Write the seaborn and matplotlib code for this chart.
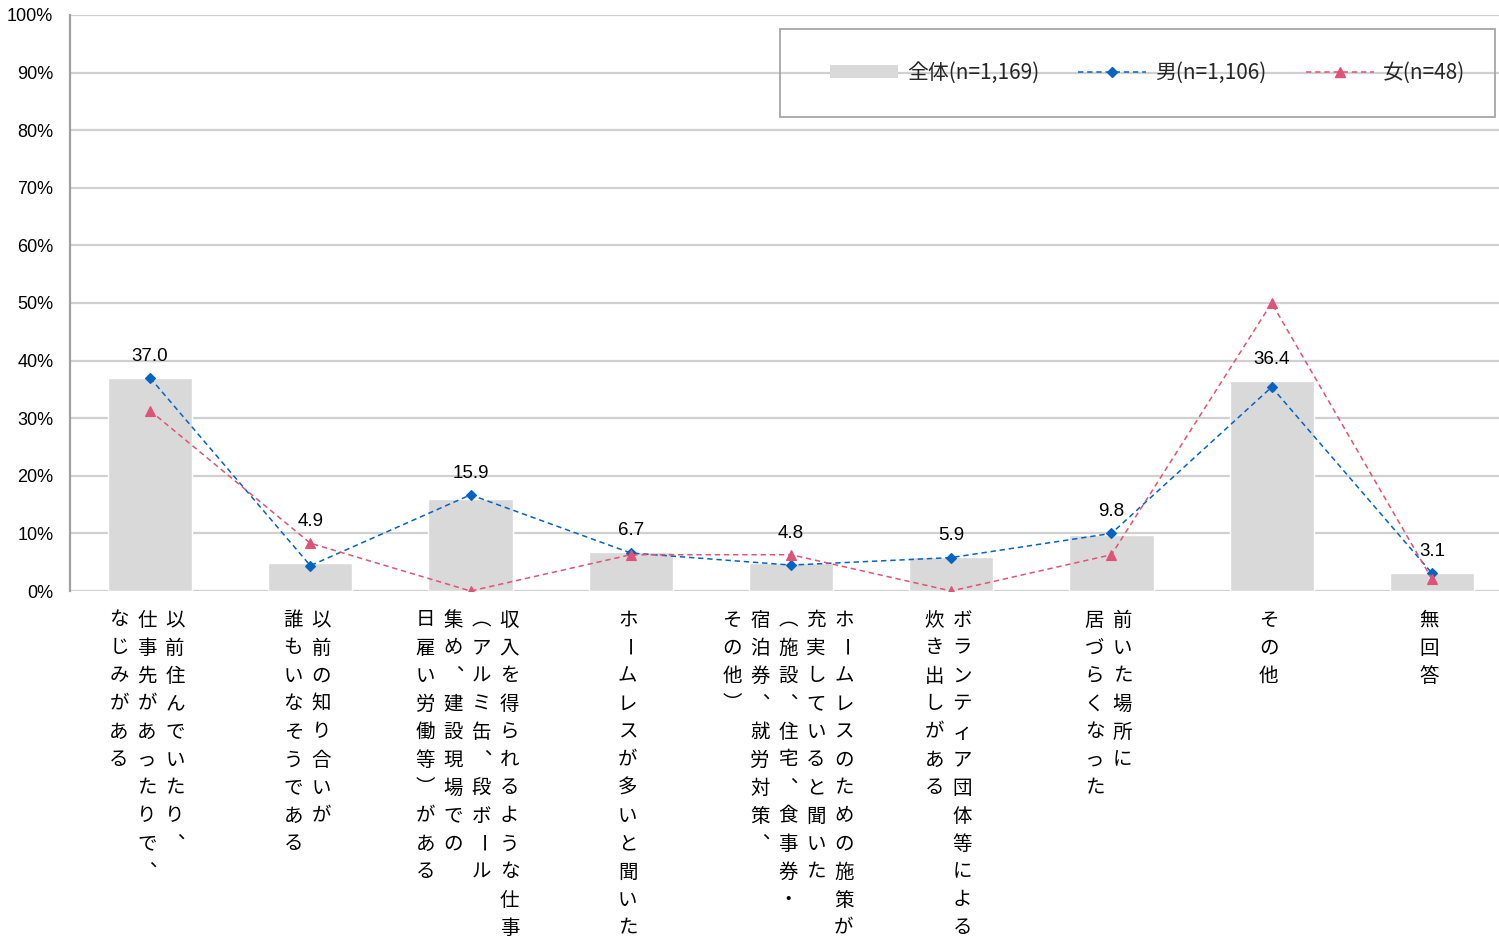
import matplotlib
matplotlib.use("Agg")
import matplotlib.pyplot as plt
from matplotlib.lines import Line2D
from matplotlib.patches import Patch, Rectangle
import seaborn as sns
import pandas as pd

# ---- data -------------------------------------------------------------
categories = [
    "以前住んでいたり、仕事先があったりで、なじみがある",
    "以前の知り合いが誰もいなそうである",
    "収入を得られるような仕事（アルミ缶、段ボール集め、建設現場での日雇い労働等）がある",
    "ホームレスが多いと聞いた",
    "ホームレスのための施策が充実していると聞いた（施設、住宅、食事券・宿泊券、就労対策、その他）",
    "ボランティア団体等による炊き出しがある",
    "前いた場所に居づらくなった",
    "その他",
    "無回答",
]
# label lines as printed under each category (read right-to-left in vertical writing)
label_lines = [
    ["以前住んでいたり、", "仕事先があったりで、", "なじみがある"],
    ["以前の知り合いが", "誰もいなそうである"],
    ["収入を得られるような仕事", "（アルミ缶、段ボール", "集め、建設現場での", "日雇い労働等）がある"],
    ["ホームレスが多いと聞いた"],
    ["ホームレスのための施策が", "充実していると聞いた", "（施設、住宅、食事券・", "宿泊券、就労対策、", "その他）"],
    ["ボランティア団体等による", "炊き出しがある"],
    ["前いた場所に", "居づらくなった"],
    ["その他"],
    ["無回答"],
]
total = [37.0, 4.9, 15.9, 6.7, 4.8, 5.9, 9.8, 36.4, 3.1]
male = [37.0, 4.4, 16.7, 6.6, 4.5, 5.8, 10.0, 35.4, 3.1]
female = [31.3, 8.3, 0.0, 6.3, 6.3, 0.0, 6.3, 50.0, 2.1]

series_labels = ["全体(n=1,169)", "男(n=1,106)", "女(n=48)"]
y_ticks = list(range(0, 101, 10))

df = pd.DataFrame({"cat": categories, "total": total, "male": male, "female": female})

# ---- style ------------------------------------------------------------
sns.set_theme(style="white")
NUM_FONT = ["Liberation Sans", "Noto Sans CJK JP"]
CJK_FONT = ["Noto Sans CJK JP", "DejaVu Sans"]
plt.rcParams["font.family"] = NUM_FONT

BAR = "#d9d9d9"
BLUE = "#0563c1"
PINK = "#e05378"
GRID = "#d0d0d0"
DASH = (3.5, 2.5)

W, H = 1499, 938
fig = plt.figure(figsize=(W / 100, H / 100), dpi=100)
ax = fig.add_axes([70 / W, (H - 591) / H, 1442 / W, 576 / H])

sns.barplot(data=df, x="cat", y="total", color=BAR, width=0.525,
            saturation=1, ax=ax, zorder=2)
sns.pointplot(data=df, x="cat", y="male", color=BLUE, markers="D",
              linestyles="--", markersize=5.5, linewidth=1.1,
              errorbar=None, ax=ax)
sns.pointplot(data=df, x="cat", y="female", color=PINK, markers="^",
              linestyles="--", markersize=6.5, linewidth=1.1,
              errorbar=None, ax=ax)
for ln in ax.lines:
    ln.set_dashes(DASH)
    ln.set_zorder(4)
for coll in ax.collections:
    coll.set_zorder(5)

ax.set_xlim(-0.5, len(categories) - 0.5)
ax.set_ylim(0, 100)
ax.set_yticks(y_ticks)
ax.set_yticklabels([f"{t}%" for t in y_ticks], fontsize=13, color="#000000")
ax.set_xticks([])
ax.set_xlabel("")
ax.set_ylabel("")
ax.tick_params(axis="y", length=0, pad=12)
ax.yaxis.grid(True, color=GRID, linewidth=1.6, zorder=0)
ax.set_axisbelow(True)
for s in ["top", "right", "bottom"]:
    ax.spines[s].set_visible(False)
ax.spines["left"].set_color("#a0a0a0")
ax.spines["left"].set_linewidth(1.6)

# value labels for the overall bars, lifted clear of nearby markers
for i, v in enumerate(total):
    near = [u for u in (v, male[i], female[i]) if u < v + 5]
    ax.annotate(f"{v:.1f}", (i, max(near)), xytext=(0, 15.5),
                textcoords="offset points", ha="center", va="center",
                fontsize=13.5, family=["Liberation Sans", "DejaVu Sans"],
                color="#000000")

# vertical category labels
VERT = {"（": "︵", "）": "︶", "、": "︑"}
PITCH = 28 * 0.72  # points
for i, lines in enumerate(label_lines):
    n = len(lines)
    for k, line in enumerate(lines):
        dx = ((n - 1) / 2 - k) * PITCH - 2.2
        for r, ch in enumerate(line):
            rot = -90 if ch == "ー" else 0
            ax.annotate(VERT.get(ch, ch), (i, 0), xycoords=("data", "axes fraction"),
                        xytext=(dx, -(29 + r * 28) * 0.72), textcoords="offset points",
                        ha="center", va="center", rotation=rot,
                        rotation_mode="anchor", fontsize=14, family=CJK_FONT,
                        color="#000000", annotation_clip=False)

# legend: frame box plus a frameless row of entries
fig.add_artist(Rectangle((780 / W, 1 - 117 / H), 715 / W, 88 / H,
                         transform=fig.transFigure, fill=False,
                         edgecolor="#a6a6a6", linewidth=1.3))
handles = [
    Patch(facecolor=BAR, edgecolor="none"),
    Line2D([], [], color=BLUE, linestyle=(0, DASH), linewidth=1.1,
           marker="D", markersize=5.5),
    Line2D([], [], color=PINK, linestyle=(0, DASH), linewidth=1.1,
           marker="^", markersize=6.5),
]
fig.legend(handles, series_labels, loc="center left",
           bbox_to_anchor=(830 / W, 1 - 73 / H), ncol=3,
           frameon=False, borderpad=0, borderaxespad=0,
           handlelength=3.27, handleheight=0.6, handletextpad=0.43,
           columnspacing=1.87,
           prop={"family": ["Noto Sans CJK JP", "DejaVu Sans"], "size": 15})

fig.savefig("out.png", dpi=100)
